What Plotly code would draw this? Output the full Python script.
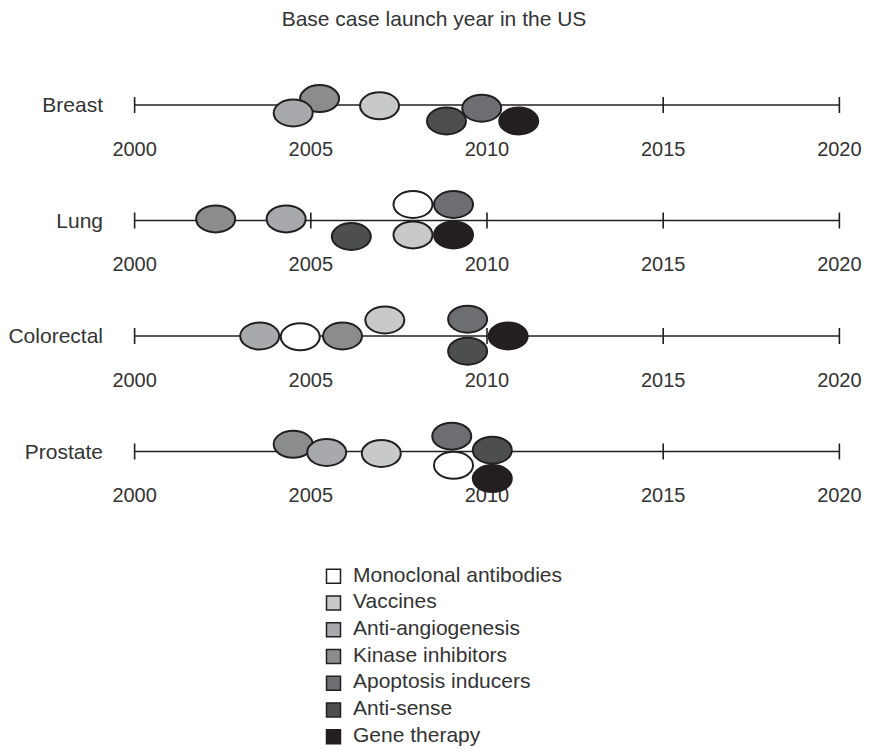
import plotly.graph_objects as go

# ---------------- data ----------------
rows = ["Breast", "Lung", "Colorectal", "Prostate"]
categories = ["Monoclonal antibodies", "Vaccines", "Anti-angiogenesis",
              "Kinase inhibitors", "Apoptosis inducers", "Anti-sense", "Gene therapy"]
colors = ["#ffffff", "#c8c9cb", "#a7a9ac", "#8a8c8e", "#6d6e71", "#4d4e50", "#231f20"]
tick_years = [2000, 2005, 2010, 2015, 2020]
tick_labels = ["2000", "2005", "2010", "2015", "2020"]

# per row: category, launch year, stacking lane (negative = above line)
breast_cat = ["Kinase inhibitors", "Anti-angiogenesis", "Vaccines", "Anti-sense", "Apoptosis inducers", "Gene therapy"]
breast_year = [2005.25, 2004.5, 2006.95, 2008.85, 2009.85, 2010.9]
breast_lane = [-0.4, 0.5, 0.05, 1.0, 0.2, 1.0]

lung_cat = ["Kinase inhibitors", "Anti-angiogenesis", "Anti-sense", "Monoclonal antibodies",
            "Apoptosis inducers", "Vaccines", "Gene therapy"]
lung_year = [2002.3, 2004.3, 2006.15, 2007.9, 2009.05, 2007.9, 2009.05]
lung_lane = [-0.1, -0.1, 1.0, -1.0, -1.0, 0.9, 0.9]

colorectal_cat = ["Anti-angiogenesis", "Monoclonal antibodies", "Kinase inhibitors", "Vaccines",
                  "Apoptosis inducers", "Anti-sense", "Gene therapy"]
colorectal_year = [2003.55, 2004.7, 2005.9, 2007.1, 2009.45, 2009.45, 2010.6]
colorectal_lane = [0.0, 0.05, 0.0, -1.0, -1.05, 0.95, 0.0]

prostate_cat = ["Kinase inhibitors", "Anti-angiogenesis", "Vaccines", "Apoptosis inducers",
                "Monoclonal antibodies", "Anti-sense", "Gene therapy"]
prostate_year = [2004.5, 2005.45, 2007.0, 2009.0, 2009.05, 2010.15, 2010.15]
prostate_lane = [-0.45, 0.06, 0.12, -0.96, 0.86, -0.08, 1.69]

row_data = [
    (breast_cat, breast_year, breast_lane),
    (lung_cat, lung_year, lung_lane),
    (colorectal_cat, colorectal_year, colorectal_lane),
    (prostate_cat, prostate_year, prostate_lane),
]

# ---------------- style ----------------
OFF = 8                      # page margin of the browser body
W, H = 870 - OFF, 750 - OFF  # figure fits inside the window
def fx(px):                  # window pixel -> paper fraction (x)
    return (px - OFF) / W
def fy(px):                  # window pixel -> paper fraction (y, from bottom)
    return 1 - (px - OFF) / H

PLOT_TOP, PLOT_BOT, FIRST_ROW = 35, 525, 105
ROW_PX = 115.5
LANE = 16 / ROW_PX          # one lane step in row units
TICK_HALF = 8 / ROW_PX
LABEL_DROP = 45.5 / ROW_PX
Y_TOP = -(FIRST_ROW - PLOT_TOP) / ROW_PX
Y_BOT = Y_TOP + (PLOT_BOT - PLOT_TOP) / ROW_PX
INK = "#231f20"
TEXT = "#333333"
FONT = "Liberation Sans, Arial, sans-serif"
color_of = dict(zip(categories, colors))

fig = go.Figure()

# axis lines + ticks per row
lx, ly = [], []
for i, _ in enumerate(rows):
    lx += [tick_years[0], tick_years[-1], None]
    ly += [i, i, None]
    for t in tick_years:
        lx += [t, t, None]
        ly += [i - TICK_HALF, i + TICK_HALF, None]
fig.add_trace(go.Scatter(x=lx, y=ly, mode="lines", line=dict(color=INK, width=1.6),
                         showlegend=False, hoverinfo="skip", cliponaxis=False))

# tick labels per row
tx, ty, tt = [], [], []
for i, _ in enumerate(rows):
    for t, lab in zip(tick_years, tick_labels):
        tx.append(t); ty.append(i + LABEL_DROP); tt.append(lab)
fig.add_trace(go.Scatter(x=tx, y=ty, text=tt, mode="text", showlegend=False,
                         textfont=dict(size=20, color=TEXT, family=FONT),
                         hoverinfo="skip", cliponaxis=False))

# ellipses
for i, (cats, years, lanes) in enumerate(row_data):
    for c, yr, ln in zip(cats, years, lanes):
        fig.add_shape(type="circle", xref="x", yref="y",
                      xsizemode="pixel", ysizemode="pixel",
                      xanchor=yr, yanchor=i + ln * LANE,
                      x0=-19.5, x1=19.5, y0=-13.5, y1=13.5,
                      fillcolor=color_of[c], line=dict(color=INK, width=2),
                      layer="above")

# legend (drawn on its own small axes)
idx = list(range(len(categories)))
fig.add_trace(go.Scatter(x=[0.5] * len(categories), y=idx, mode="markers",
                         marker=dict(symbol="square", size=14, color=colors,
                                     line=dict(color=INK, width=1.5)),
                         xaxis="x2", yaxis="y2", showlegend=False, hoverinfo="skip",
                         cliponaxis=False))
fig.add_trace(go.Scatter(x=[1.0] * len(categories), y=idx, text=categories, mode="text",
                         textposition="middle right",
                         textfont=dict(size=21, color=TEXT, family=FONT),
                         xaxis="x2", yaxis="y2", showlegend=False, hoverinfo="skip",
                         cliponaxis=False))

fig.update_layout(
    width=W, height=H,
    margin=dict(l=0, r=0, t=0, b=0, autoexpand=False),
    paper_bgcolor="white", plot_bgcolor="white",
    font=dict(family=FONT, color=TEXT, size=20),
    title=dict(text="Base case launch year in the US", x=fx(434), xref="container",
               xanchor="center", y=fy(19), yref="container", yanchor="middle",
               font=dict(size=21, color=TEXT, family=FONT)),
    xaxis=dict(range=[1999.5, 2020.5], domain=[fx(117), fx(857)], visible=False,
               automargin=False),
    yaxis=dict(range=[Y_BOT, Y_TOP], domain=[fy(PLOT_BOT), fy(PLOT_TOP)],
               tickvals=list(range(len(rows))), ticktext=rows,
               showgrid=False, zeroline=False, showline=False, ticks="",
               tickfont=dict(size=21, color=TEXT, family=FONT), ticklabelstandoff=13,
               automargin=False),
    xaxis2=dict(range=[0, 1], domain=[fx(314), fx(353)], visible=False, anchor="y2",
                automargin=False),
    yaxis2=dict(range=[len(categories) - 0.5, -0.5], domain=[fy(750), fy(563)],
                visible=False, anchor="x2", automargin=False),
    showlegend=False,
)

fig.write_html("out.html")
